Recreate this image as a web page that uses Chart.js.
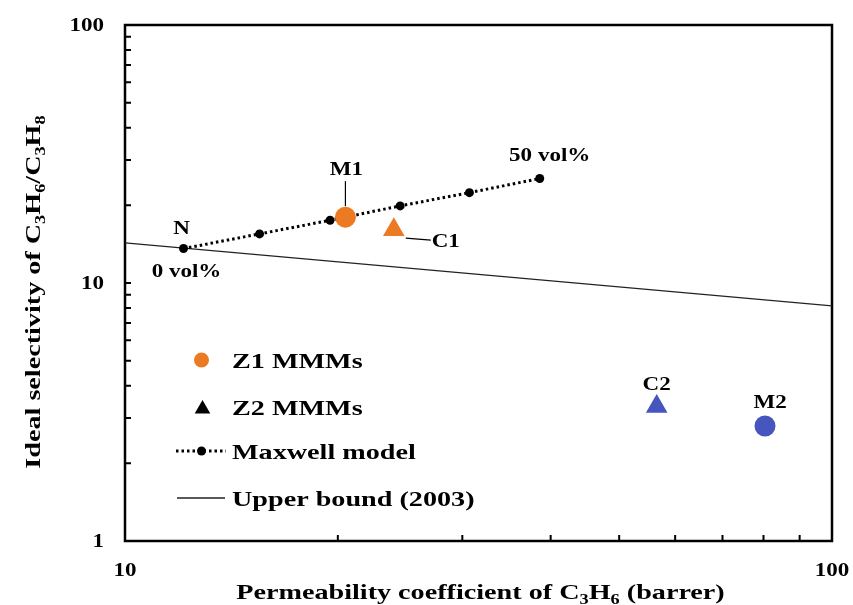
<!DOCTYPE html>
<html>
<head>
<meta charset="utf-8">
<script src="https://cdn.jsdelivr.net/npm/chart.js@4.4.0/dist/chart.umd.min.js"></script>
<style>
  html, body { margin: 0; padding: 0; background: #fff; }
  #wrap { width: 853px; height: 605px; position: relative; }
</style>
</head>
<body>
<div id="wrap"><canvas id="chart"></canvas></div>
<script>
// Maxwell model, 0 -> 50 vol%
const maxwellX = [12.1, 15.5, 19.5, 24.5, 30.7, 38.6];
const maxwellY = [13.6, 15.5, 17.5, 19.9, 22.4, 25.4];
const maxwellNames = ['0 vol%', '50 vol%'];

// Z1 MMMs (circles) and Z2 MMMs (triangles)
const circleX = [20.5, 80.4];
const circleY = [18.0, 2.79];
const circleNames = ['M1', 'M2'];
const triangleX = [24.0, 56.5];
const triangleY = [16.1, 3.32];
const triangleNames = ['C1', 'C2'];

// Robeson-type upper bound (2003)
const boundX = [10, 100];
const boundY = [14.3, 8.16];

const xTickLabels = [10, 100];
const yTickLabels = [1, 10, 100];
const xMinorTicks = [20, 30, 40, 50, 60, 70, 80, 90];
const yMinorTicks = [2, 3, 4, 5, 6, 7, 8, 9, 10, 20, 30, 40, 50, 60, 70, 80, 90];

const ORANGE = '#EC7A22';
const BLUE = '#4656BE';
const SERIF = '"Liberation Serif", "Times New Roman", serif';
const STRETCH = 1.28;

const pts = (xs, ys) => xs.map((v, i) => ({ x: v, y: ys[i] }));

// text with optional subscripts, drawn a bit wide like the original
function drawText(ctx, parts, x, y, size, align, angle) {
  if (typeof parts === 'string') parts = [[parts, 0]];
  const sub = size * 0.65;
  let w = 0;
  parts.forEach(([t, s]) => {
    ctx.font = `bold ${s ? sub : size}px ${SERIF}`;
    w += ctx.measureText(t).width;
  });
  ctx.save();
  ctx.translate(x, y);
  if (angle) ctx.rotate(angle);
  ctx.scale(STRETCH, 1);
  let cx = align === 'center' ? -w / 2 : align === 'right' ? -w : 0;
  ctx.textAlign = 'left';
  ctx.textBaseline = 'alphabetic';
  ctx.fillStyle = '#000';
  parts.forEach(([t, s]) => {
    ctx.font = `bold ${s ? sub : size}px ${SERIF}`;
    ctx.fillText(t, cx, s ? size * 0.22 : 0);
    cx += ctx.measureText(t).width;
  });
  ctx.restore();
}

function triangle(ctx, x, y, r) {
  ctx.beginPath();
  for (let k = 0; k < 3; k++) {
    const a = k * 2 * Math.PI / 3;
    const px = x + Math.sin(a) * r, py = y - Math.cos(a) * r;
    k ? ctx.lineTo(px, py) : ctx.moveTo(px, py);
  }
  ctx.closePath();
  ctx.fill();
}

const frame = {
  id: 'frame',
  beforeDatasetsDraw(chart) {
    const { ctx, chartArea: a, scales: { x, y } } = chart;
    ctx.save();
    ctx.strokeStyle = '#000';
    ctx.lineWidth = 2;
    ctx.beginPath();
    xMinorTicks.forEach(v => {
      const px = x.getPixelForValue(v);
      ctx.moveTo(px, a.bottom);
      ctx.lineTo(px, a.bottom - 6);
    });
    yMinorTicks.forEach(v => {
      const py = y.getPixelForValue(v);
      ctx.moveTo(a.left, py);
      ctx.lineTo(a.left + 6, py);
    });
    ctx.stroke();
    ctx.lineWidth = 2.5;
    ctx.strokeRect(a.left, a.top, a.right - a.left, a.bottom - a.top);
    ctx.restore();
  },
  afterDraw(chart) {
    const { ctx, chartArea: a, scales: { x, y } } = chart;
    const ds = chart.data.datasets;

    // tick labels
    xTickLabels.forEach(v => drawText(ctx, String(v), x.getPixelForValue(v), 576, 18, 'center'));
    yTickLabels.forEach(v => drawText(ctx, String(v), 104, y.getPixelForValue(v) + 6, 18, 'right'));

    // axis titles
    drawText(ctx, [['Permeability coefficient of C', 0], ['3', 1], ['H', 0], ['6', 1], [' (barrer)', 0]],
      (a.left + a.right) / 2 + 2, 599, 22, 'center');
    drawText(ctx, [['Ideal selectivity of C', 0], ['3', 1], ['H', 0], ['6', 1], ['/C', 0], ['3', 1], ['H', 0], ['8', 1]],
      40, 292, 22, 'center', -Math.PI / 2);

    // point labels
    const P = (xv, yv) => [x.getPixelForValue(xv), y.getPixelForValue(yv)];
    let [nx, ny] = P(maxwellX[0], maxwellY[0]);
    drawText(ctx, 'N', nx - 2, ny - 15, 18, 'center');
    drawText(ctx, maxwellNames[0], nx + 3, ny + 28, 18, 'center');
    let [ex, ey] = P(maxwellX[maxwellX.length - 1], maxwellY[maxwellY.length - 1]);
    drawText(ctx, maxwellNames[1], ex + 10, ey - 18, 18, 'center');

    ctx.save();
    ctx.strokeStyle = '#000';
    ctx.lineWidth = 1.2;
    let [m1x, m1y] = P(circleX[0], circleY[0]);
    drawText(ctx, circleNames[0], m1x + 1, m1y - 42, 18, 'center');
    ctx.beginPath();
    ctx.moveTo(m1x, m1y - 36);
    ctx.lineTo(m1x, m1y - 11);
    ctx.stroke();
    let [m2x, m2y] = P(circleX[1], circleY[1]);
    drawText(ctx, circleNames[1], m2x + 5, m2y - 18, 18, 'center');

    let [c1x, c1y] = P(triangleX[0], triangleY[0]);
    ctx.beginPath();
    ctx.moveTo(c1x + 12, c1y + 8.5);
    ctx.lineTo(c1x + 37, c1y + 10.5);
    ctx.stroke();
    drawText(ctx, triangleNames[0], c1x + 52, c1y + 17, 18, 'center');
    let [c2x, c2y] = P(triangleX[1], triangleY[1]);
    drawText(ctx, triangleNames[1], c2x, c2y - 17, 18, 'center');
    ctx.restore();

    // legend
    const lx = 201.5, tx = 232;
    const rows = [360, 407, 451, 498];
    ctx.save();
    ctx.fillStyle = ORANGE;
    ctx.beginPath();
    ctx.arc(lx, rows[0], 7.5, 0, Math.PI * 2);
    ctx.fill();
    ctx.fillStyle = '#000';
    triangle(ctx, lx + 1, rows[1] + 2, 9);
    ctx.strokeStyle = '#000';
    ctx.lineWidth = 3;
    ctx.setLineDash([2.5, 3]);
    ctx.beginPath();
    ctx.moveTo(176, rows[2]);
    ctx.lineTo(226, rows[2]);
    ctx.stroke();
    ctx.setLineDash([]);
    ctx.beginPath();
    ctx.arc(lx, rows[2], 4.5, 0, Math.PI * 2);
    ctx.fill();
    ctx.lineWidth = 1.3;
    ctx.strokeStyle = '#222';
    ctx.beginPath();
    ctx.moveTo(177, rows[3]);
    ctx.lineTo(225, rows[3]);
    ctx.stroke();
    ctx.restore();
    rows.forEach((ry, i) => drawText(ctx, ds[i].label, tx, ry + 7.5, 22, 'left'));
  }
};

new Chart(document.getElementById('chart'), {
  type: 'scatter',
  data: {
    datasets: [
      {
        label: 'Z1 MMMs',
        data: pts(circleX, circleY),
        pointStyle: 'circle',
        pointRadius: 10.5,
        backgroundColor: [ORANGE, BLUE],
        borderColor: [ORANGE, BLUE],
        borderWidth: 0
      },
      {
        label: 'Z2 MMMs',
        data: pts(triangleX, triangleY),
        pointStyle: 'triangle',
        pointRadius: 12.5,
        backgroundColor: [ORANGE, BLUE],
        borderColor: [ORANGE, BLUE],
        borderWidth: 0
      },
      {
        label: 'Maxwell model',
        data: pts(maxwellX, maxwellY),
        showLine: true,
        borderColor: '#000',
        borderWidth: 3,
        borderDash: [2.5, 3],
        borderCapStyle: 'butt',
        pointRadius: 4.5,
        pointBackgroundColor: '#000',
        pointBorderWidth: 0
      },
      {
        label: 'Upper bound (2003)',
        data: pts(boundX, boundY),
        showLine: true,
        borderColor: '#222',
        borderWidth: 1.3,
        pointRadius: 0
      }
    ]
  },
  options: {
    responsive: true,
    maintainAspectRatio: false,
    animation: false,
    events: [],
    layout: { padding: { left: 125, right: 21, top: 25, bottom: 64 } },
    plugins: { legend: { display: false }, tooltip: { enabled: false } },
    scales: {
      x: { type: 'logarithmic', min: 10, max: 100, display: false },
      y: { type: 'logarithmic', min: 1, max: 100, display: false }
    }
  },
  plugins: [frame]
});
</script>
</body>
</html>
